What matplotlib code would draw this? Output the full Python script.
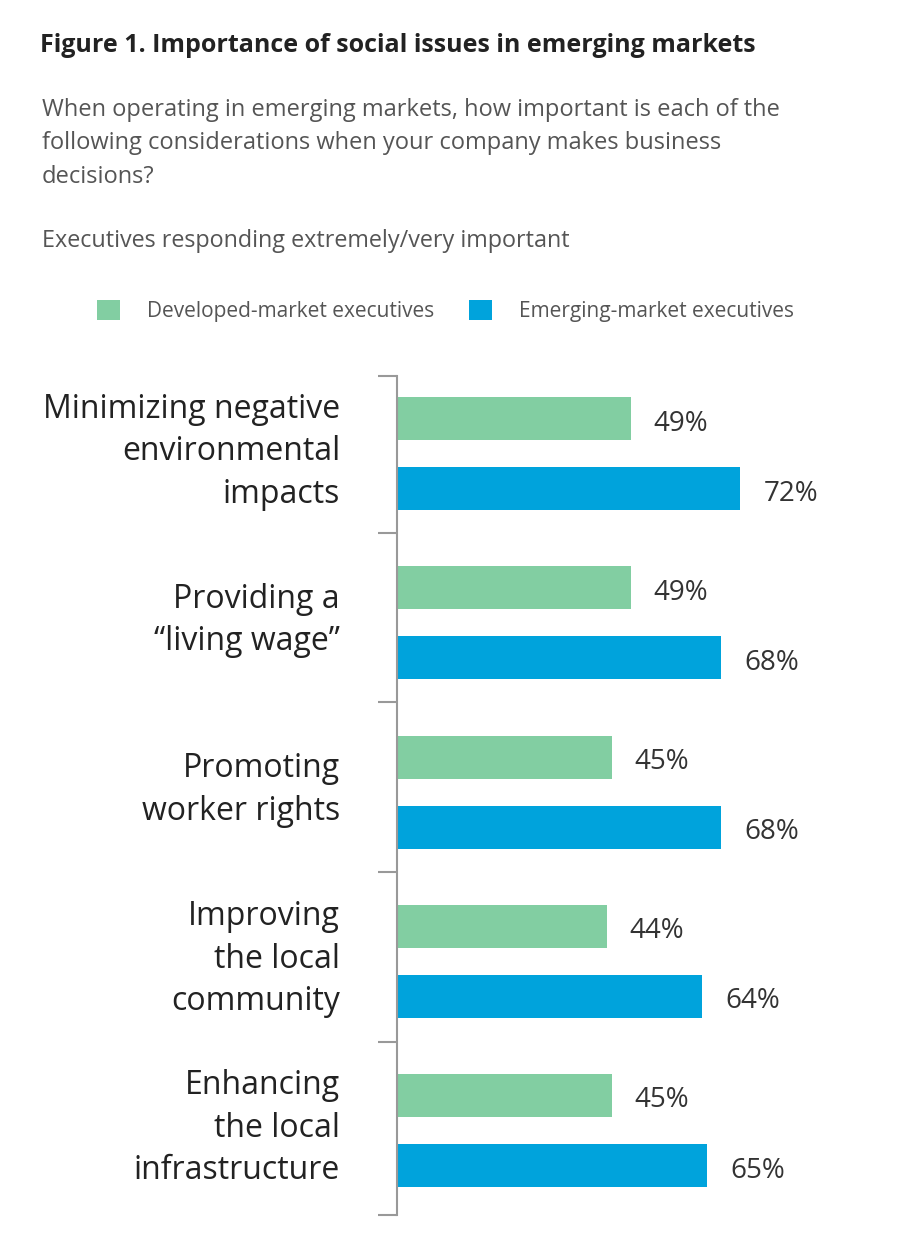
import matplotlib.pyplot as plt
import numpy as np

plt.rcParams['font.family'] = ['Open Sans', 'DejaVu Sans']

categories = [
    "Minimizing negative\nenvironmental\nimpacts",
    "Providing a\n\u201cliving wage\u201d",
    "Promoting\nworker rights",
    "Improving\nthe local\ncommunity",
    "Enhancing\nthe local\ninfrastructure",
]
developed = [49, 49, 45, 44, 45]
emerging = [72, 68, 68, 64, 65]
series_names = ["Developed-market executives", "Emerging-market executives"]

green = "#82cea2"
blue = "#00a3dc"
text_col = "#333333"
grey_col = "#555555"

fig = plt.figure(figsize=(9.2, 12.42), dpi=100)

fig.text(40 / 920, 1 - 45 / 1242, "Figure 1. Importance of social issues in emerging markets",
         fontsize=18, fontweight='bold', color="#222222", va='center', ha='left')
fig.text(42 / 920, 1 - 98 / 1242,
         "When operating in emerging markets, how important is each of the\n"
         "following considerations when your company makes business\n"
         "decisions?",
         fontsize=17, color=grey_col, va='top', ha='left', linespacing=1.52)
fig.text(42 / 920, 1 - 241 / 1242, "Executives responding extremely/very important",
         fontsize=16.8, color=grey_col, va='center', ha='left')

ax = fig.add_axes([397 / 920, 27 / 1242, 477 / 920, (1215 - 376) / 1242])

y = np.arange(len(categories))
h = 0.254
off = 0.207
b1 = ax.barh(y - off, developed, height=h, color=green, label=series_names[0])
b2 = ax.barh(y + off, emerging, height=h, color=blue, label=series_names[1])

for bars, vals in ((b1, developed), (b2, emerging)):
    for bar, v in zip(bars, vals):
        ax.text(v + 4.8, bar.get_y() + bar.get_height() / 2 + 0.03, f"{v}%",
                va='center', ha='left', fontsize=20, color=text_col)

ax.set_xlim(0, 100)
ax.set_ylim(4.5, -0.46)

# group separators as major ticks, category labels on minor ticks
ax.set_yticks([-0.46, 0.47, 1.47, 2.47, 3.48, 4.5])
ax.set_yticklabels([])
ax.set_yticks(y - 0.065, minor=True)
ax.set_yticklabels(categories, minor=True, fontsize=23, color="#222222",
                   linespacing=1.38)
ax.tick_params(axis='y', which='major', length=14, width=1.5, color="#999999", direction='out')
ax.tick_params(axis='y', which='minor', length=0, pad=41)
ax.set_xticks([])

for s in ['top', 'right', 'bottom']:
    ax.spines[s].set_visible(False)
ax.spines['left'].set_color("#999999")
ax.spines['left'].set_linewidth(1.5)

leg = fig.legend(handles=[b1, b2], loc='center left', bbox_to_anchor=(78 / 920, 1 - 311 / 1242),
                 ncol=2, frameon=False, fontsize=15, handlelength=1.1, handleheight=1.1,
                 columnspacing=1.7, handletextpad=1.3)
for t in leg.get_texts():
    t.set_color(grey_col)

fig.savefig("out.png", dpi=100, facecolor='white')
